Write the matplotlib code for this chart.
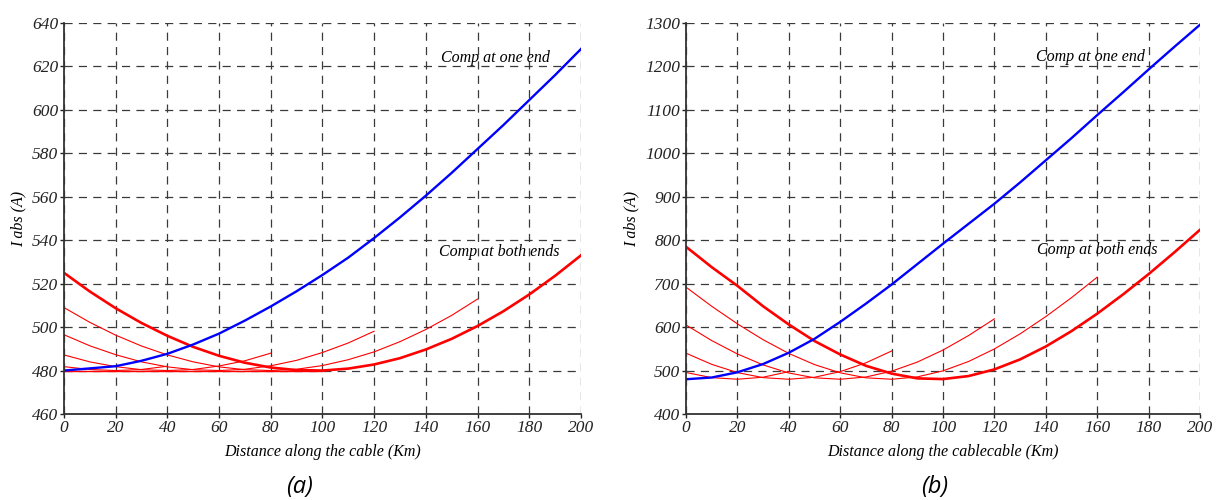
import matplotlib
matplotlib.use("Agg")
import matplotlib.pyplot as plt

# ---- data ----
km = [0, 10, 20, 30, 40, 50, 60, 70, 80, 90, 100,
      110, 120, 130, 140, 150, 160, 170, 180, 190, 200]

# (a) compensation at one end / both ends, cable lengths 40..200 km
a_one_end = [480, 481, 482, 484.5, 487.7, 492, 497, 503, 509.5, 516.5, 524,
             532, 541, 550.5, 560.5, 571, 582, 593, 604.5, 616, 628]
a_both_200 = [525, 516.4, 508.7, 501.9, 496, 490.9, 486.8, 483.6, 481.4, 480.2, 480,
              480.9, 482.8, 485.7, 489.7, 494.6, 500.5, 507.3, 515, 523.6, 533]
a_both_160 = [509, 502.2, 496.3, 491.3, 487.2, 484, 481.7, 480.4, 480,
              480.6, 482.3, 485, 488.6, 493.3, 498.9, 505.4, 512.9]
a_both_120 = [496.5, 491.4, 487.3, 484, 481.7, 480.4, 480,
              480.6, 482.2, 484.7, 488.3, 492.7, 498.1]
a_both_80 = [487.2, 484, 481.8, 480.4, 480, 480.5, 482.1, 484.5, 488]
a_both_40 = [481.8, 480.5, 480, 480.5, 482]
a_floor_x = [0, 100]
a_floor_y = [480, 480]

# (b)
b_one_end = [480, 484, 496, 515, 541, 573, 612, 654, 698, 745, 792,
             838, 884, 933, 984, 1035, 1088, 1140, 1193, 1245, 1296]
b_both_200 = [785, 738, 695, 648, 606, 568, 537, 511, 493, 482, 480.4,
              487.4, 502.7, 525.7, 555.4, 590.8, 630.9, 675, 722, 772, 824]
b_both_160 = [692, 648, 607.5, 571, 539.4, 513.7, 494.8, 483.3, 480,
              485.4, 499.3, 521, 549.8, 584.5, 624.2, 667.8, 715]
b_both_120 = [605, 569, 538.2, 513, 494.4, 483.3, 480,
              485.2, 498.5, 519.5, 547.2, 580.8, 619]
b_both_80 = [540, 514.3, 495.3, 483.7, 480, 484.6, 497.5, 517.8, 545]
b_both_40 = [495.5, 483.7, 480, 484.7, 497.5]

a_yticks = list(range(460, 641, 20))
b_yticks = list(range(400, 1301, 100))
xticks = list(range(0, 201, 20))

SERIF = ["Liberation Serif", "DejaVu Serif"]


def style_axes(ax, yticks, xlabel):
    """Matlab-like look: dashed grid, italic serif ticks"""
    ax.set_xlim(0, 200)
    ax.set_ylim(yticks[0], yticks[-1])
    ax.set_xticks(xticks)
    ax.set_yticks(yticks)
    ax.grid(True, color="#3a3a3a", linestyle=(0, (6.5, 5)), linewidth=0.9)
    ax.set_axisbelow(True)
    for side in ["top", "right"]:
        ax.spines[side].set_visible(False)
    for side in ["left", "bottom"]:
        ax.spines[side].set_linewidth(1.3)
        ax.spines[side].set_color("#333333")
    ax.tick_params(direction="out", length=3, width=1, pad=1,
                   labelsize=12.5, colors="#222222")
    for lbl in ax.get_xticklabels() + ax.get_yticklabels():
        lbl.set_fontstyle("italic")
        lbl.set_family(SERIF)
    ax.set_xlabel(xlabel, fontsize=11.5, fontstyle="italic", family=SERIF, labelpad=6)
    ax.set_ylabel("I abs (A)", fontsize=11.5, fontstyle="italic", family=SERIF, labelpad=4)


def draw_panel(ax, one_end, both, floor=None):
    thin = both[:-1]
    for ys in thin:
        ax.plot(km[:len(ys)], ys, color="#ff0000", linewidth=0.8)
    if floor is not None:
        ax.plot(floor[0], floor[1], color="#ff0000", linewidth=1.0)
    ax.plot(km, both[-1], color="#ff0000", linewidth=1.9)
    ax.plot(km, one_end, color="#0000ff", linewidth=1.7)


def main():
    fig = plt.figure(figsize=(12.25, 5), dpi=100)
    ax_a = fig.add_axes([0.0522, 0.172, 0.422, 0.782])
    ax_b = fig.add_axes([0.560, 0.172, 0.4196, 0.782])

    draw_panel(ax_a, a_one_end,
               [a_both_40, a_both_80, a_both_120, a_both_160, a_both_200],
               floor=(a_floor_x, a_floor_y))
    style_axes(ax_a, a_yticks, "Distance along the cable (Km)")
    ax_a.text(146, 624, "Comp at one end", fontsize=11.5, fontstyle="italic",
              family=SERIF, va="center", ha="left")
    ax_a.text(145, 534.5, "Comp at both ends", fontsize=11.5, fontstyle="italic",
              family=SERIF, va="center", ha="left")

    draw_panel(ax_b, b_one_end,
               [b_both_40, b_both_80, b_both_120, b_both_160, b_both_200])
    style_axes(ax_b, b_yticks, "Distance along the cablecable (Km)")
    ax_b.text(136, 1222, "Comp at one end", fontsize=11.5, fontstyle="italic",
              family=SERIF, va="center", ha="left")
    ax_b.text(136.5, 777, "Comp at both ends", fontsize=11.5, fontstyle="italic",
              family=SERIF, va="center", ha="left")

    fig.text(300 / 1225, 1 - 487 / 500, "(a)", fontsize=17, fontstyle="italic",
             family=["Open Sans", "DejaVu Sans"], ha="center", va="center")
    fig.text(935 / 1225, 1 - 487 / 500, "(b)", fontsize=17, fontstyle="italic",
             family=["Open Sans", "DejaVu Sans"], ha="center", va="center")

    fig.savefig("out.png", dpi=100)


if __name__ == "__main__":
    main()
